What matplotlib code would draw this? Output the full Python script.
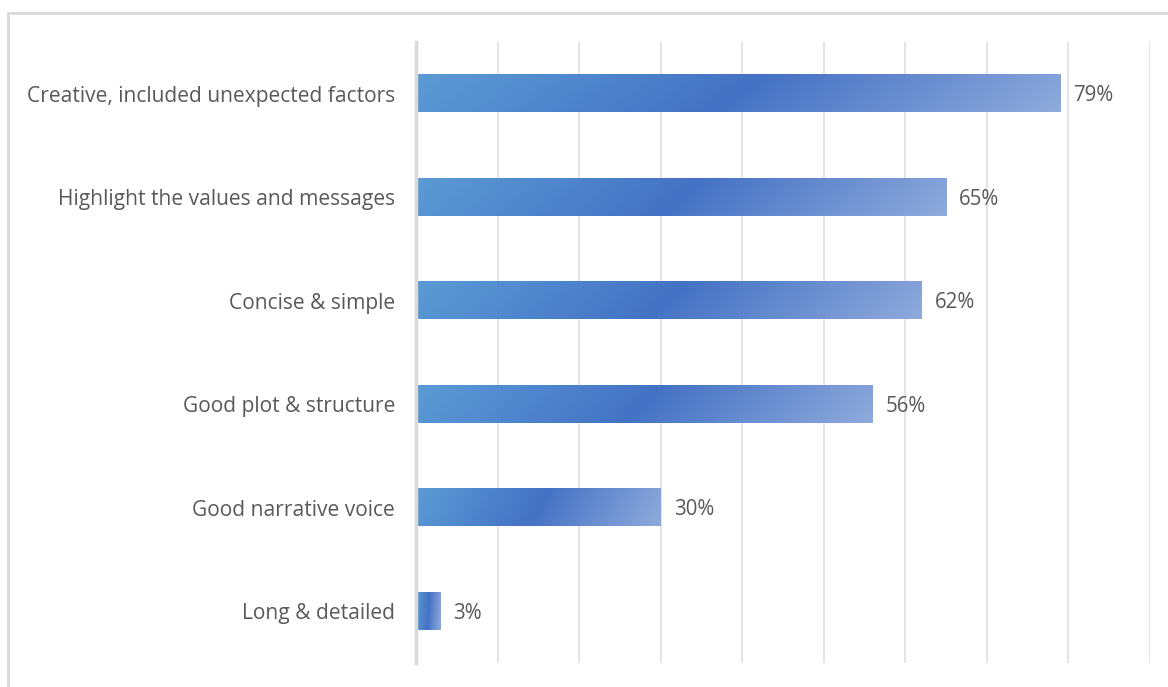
import numpy as np
import matplotlib.pyplot as plt
from matplotlib.colors import LinearSegmentedColormap
from matplotlib.patches import Rectangle

plt.rcParams['font.family'] = ['Open Sans', 'DejaVu Sans']

# survey answers, top to bottom
categorias = ['Creative, included unexpected factors',
              'Highlight the values and messages',
              'Concise & simple',
              'Good plot & structure',
              'Good narrative voice',
              'Long & detailed']
porcentajes = [79, 65, 62, 56, 30, 3]

gris_texto = '#595959'
gris_linea = '#D9D9D9'
gris_grid = '#E4E4E4'

# degradado tipo Excel: claro -> oscuro -> claro
cmap = LinearSegmentedColormap.from_list('barra', ['#5B9BD5', '#4472C4', '#8FAADC'])

fig = plt.figure(figsize=(11.68, 6.87), dpi=100)
ax = fig.add_axes([416/1168, 1 - 663/687, (1150 - 416)/1168, (663 - 42)/687])

# marco del grafico
fig.patches.append(Rectangle((8/1168, -0.05), 1.2, 1 - 13/687 + 0.05,
                             transform=fig.transFigure, fill=False,
                             edgecolor=gris_linea, linewidth=2))

n = len(categorias)
posiciones = np.arange(n)
alto = 0.36

# gradiente en coordenadas relativas de la barra, apenas en diagonal
xs = np.linspace(0, 1, 256)
ys = np.linspace(0, 1, 32)
gx, gy = np.meshgrid(xs, ys)
grad = (gx + 0.08 * gy) / 1.08

for i, (cat, val) in enumerate(zip(categorias, porcentajes)):
    v = val / 100
    ax.imshow(grad, extent=[0, v, i + alto/2, i - alto/2], cmap=cmap,
              aspect='auto', interpolation='bilinear', zorder=2)
    ax.text(v + 0.016, i + 0.02, f'{val}%', va='center', ha='left',
            fontsize=14.8, color=gris_texto, zorder=3)

ax.set_xlim(0, 0.9)
ax.set_ylim(n - 0.5, -0.5)
ax.set_yticks(posiciones)
ax.set_yticklabels(categorias, fontsize=15.1, color=gris_texto)
ax.tick_params(axis='y', length=0, pad=15)
ax.set_xticks(np.arange(0, 0.91, 0.1))
ax.tick_params(axis='x', length=0, labelbottom=False)
ax.grid(axis='x', color=gris_grid, linewidth=1.5, zorder=0)
ax.set_axisbelow(True)

for lado in ['top', 'right', 'bottom']:
    ax.spines[lado].set_visible(False)
ax.spines['left'].set_color(gris_linea)
ax.spines['left'].set_linewidth(2.5)
ax.spines['left'].set_zorder(4)

fig.savefig('out.png', dpi=100)
